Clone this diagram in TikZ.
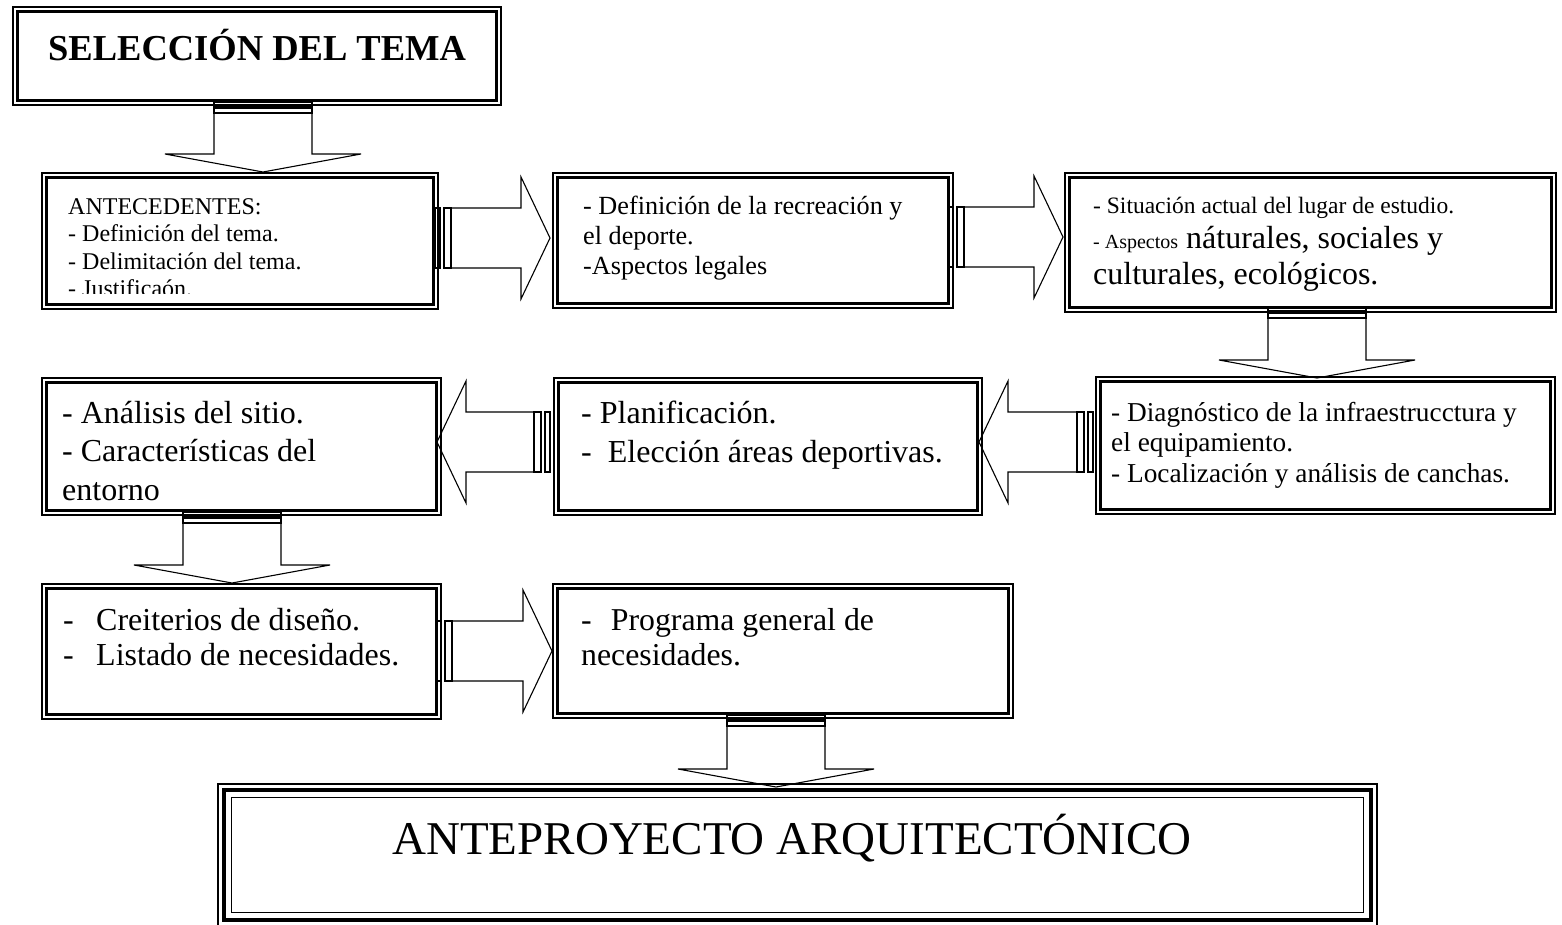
\documentclass[tikz,border=0pt]{standalone}
\usepackage{fontspec}
\setmainfont{Liberation Serif}
\usetikzlibrary{fit}
\newcommand\dbox[5]{%
  \node[fit={(#2,#3)(#4,#5)}, boxo] (#1) {};
  \draw[boxi] ([shift={(5pt,-5pt)}]#1.north west) rectangle ([shift={(-5pt,5pt)}]#1.south east);}
% rightward striped block arrow: tail x, tip x, centre y
\newcommand\sarrowR[3]{%
  \draw[barrow] ({#1},{#3-30}) rectangle ({#1+5},{#3+30});
  \draw[barrow] ({#1+9},{#3-30}) rectangle ({#1+16},{#3+30});
  \draw[barrow] ({#1+16},{#3-30}) -- ({#2-29},{#3-30}) -- ({#2-29},{#3-61}) -- ({#2},{#3})
     -- ({#2-29},{#3+61}) -- ({#2-29},{#3+30}) -- ({#1+16},{#3+30}) -- cycle;}
% leftward striped block arrow: tail x, tip x, centre y
\newcommand\sarrowL[3]{%
  \draw[barrow] ({#1-5},{#3-30}) rectangle ({#1},{#3+30});
  \draw[barrow] ({#1-16},{#3-30}) rectangle ({#1-9},{#3+30});
  \draw[barrow] ({#1-16},{#3-30}) -- ({#2+29},{#3-30}) -- ({#2+29},{#3-61}) -- ({#2},{#3})
     -- ({#2+29},{#3+61}) -- ({#2+29},{#3+30}) -- ({#1-16},{#3+30}) -- cycle;}
% downward striped block arrow: centre x, tail y, tip y
\newcommand\sarrowD[3]{%
  \draw[barrow] ({#1-49},{#2}) rectangle ({#1+49},{#2+4});
  \draw[barrow] ({#1-49},{#2+6}) rectangle ({#1+49},{#2+11});
  \draw[barrow] ({#1-49},{#2+11}) -- ({#1-49},{#3-18}) -- ({#1-98},{#3-18}) -- ({#1},{#3})
     -- ({#1+98},{#3-18}) -- ({#1+49},{#3-18}) -- ({#1+49},{#2+11}) -- cycle;}
\begin{document}
\begin{tikzpicture}[x=1pt,y=-1pt,
  boxo/.style={draw, line width=1.1pt, inner sep=0pt, rectangle},
  boxi/.style={line width=2.2pt},
  barrow/.style={draw, line width=1.1pt, line join=miter},
  txt/.style={anchor=base west, inner sep=0pt, align=left}]
\useasboundingbox (0,0) rectangle (1562,924);
\fill[white] (0,0) rectangle (1562,924);

% boxes
\dbox{title}{13}{7}{501}{105}
\dbox{ante}{42}{173}{438}{309}
\dbox{recre}{553}{173}{953}{308}
\dbox{situa}{1065}{173}{1556}{312}
\dbox{diag}{1096}{377}{1555}{514}
\dbox{plan}{554}{378}{982}{515}
\dbox{anal}{42}{378}{441}{515}
\dbox{crit}{42}{584}{441}{719}
\dbox{prog}{553}{584}{1013}{718}

% final box, triple border
\node[fit={(218,784)(1377,926)}, boxo] (final) {};
\draw[line width=4pt] ([shift={(6.5pt,-6.5pt)}]final.north west) rectangle ([shift={(-6.5pt,6.5pt)}]final.south east);
\draw[line width=1.2pt] ([shift={(14pt,-14pt)}]final.north west) rectangle ([shift={(-14pt,14pt)}]final.south east);

% texts
\node[txt] (ttitle) at (48,60) {\fontsize{36.5}{40}\selectfont\bfseries SELECCIÓN DEL TEMA};
\begin{scope}
\clip (48,178) rectangle (432,293);
\node[txt] (tante) at (68,214) {\parbox[t]{360pt}{\fontsize{24}{27.5}\selectfont ANTECEDENTES:\\- Definición del tema.\\- Delimitación del tema.\\- Justificaón.}};
\end{scope}
\node[txt] (trecre) at (583,214) {\parbox[t]{360pt}{\fontsize{26.2}{30}\selectfont - Definición de la recreación y\\el deporte.\\-Aspectos legales}};
\node[txt] (tsitua) at (1093,213) {\parbox[t]{470pt}{\fontsize{32}{35.5}\selectfont {\fontsize{23.5}{25}\selectfont - Situación actual del lugar de estudio.}\\{\fontsize{20}{22}\selectfont - Aspectos} náturales, sociales y\\culturales, ecológicos.}};
\node[txt] (tdiag) at (1111,421) {\parbox[t]{440pt}{\fontsize{27.3}{30.5}\selectfont - Diagnóstico de la infraestrucctura y\\el equipamiento.\\- Localización y análisis de canchas.}};
\node[txt] (tplan) at (581,423) {\parbox[t]{400pt}{\fontsize{32}{39}\selectfont - Planificación.\\-~ Elección áreas deportivas.}};
\node[txt] (tanal) at (62,423) {\parbox[t]{370pt}{\fontsize{32}{38.5}\selectfont - Análisis del sitio.\\- Características del\\entorno}};
\node[txt] (tcrit) at (63,630) {\parbox[t]{370pt}{\fontsize{32}{35}\selectfont -\hspace{0.7em}Creiterios de diseño.\\-\hspace{0.7em}Listado de necesidades.}};
\node[txt] (tprog) at (581,630) {\parbox[t]{420pt}{\fontsize{31.8}{35}\selectfont -\hspace{0.6em}Programa general de\\necesidades.}};
\node[anchor=base, inner sep=0pt] (tfinal) at (792,854) {\fontsize{47}{52}\selectfont ANTEPROYECTO ARQUITECTÓNICO};

% striped block arrows
\sarrowD{263}{102}{172}
\sarrowR{435}{550}{238}
\sarrowR{948}{1063}{237}
\sarrowD{1317}{307}{378}
\sarrowL{1093}{979}{442}
\sarrowL{550}{437}{442}
\sarrowD{232}{512}{583}
\sarrowR{436}{552}{651}
\sarrowD{776}{715}{787}
\end{tikzpicture}
\end{document}
